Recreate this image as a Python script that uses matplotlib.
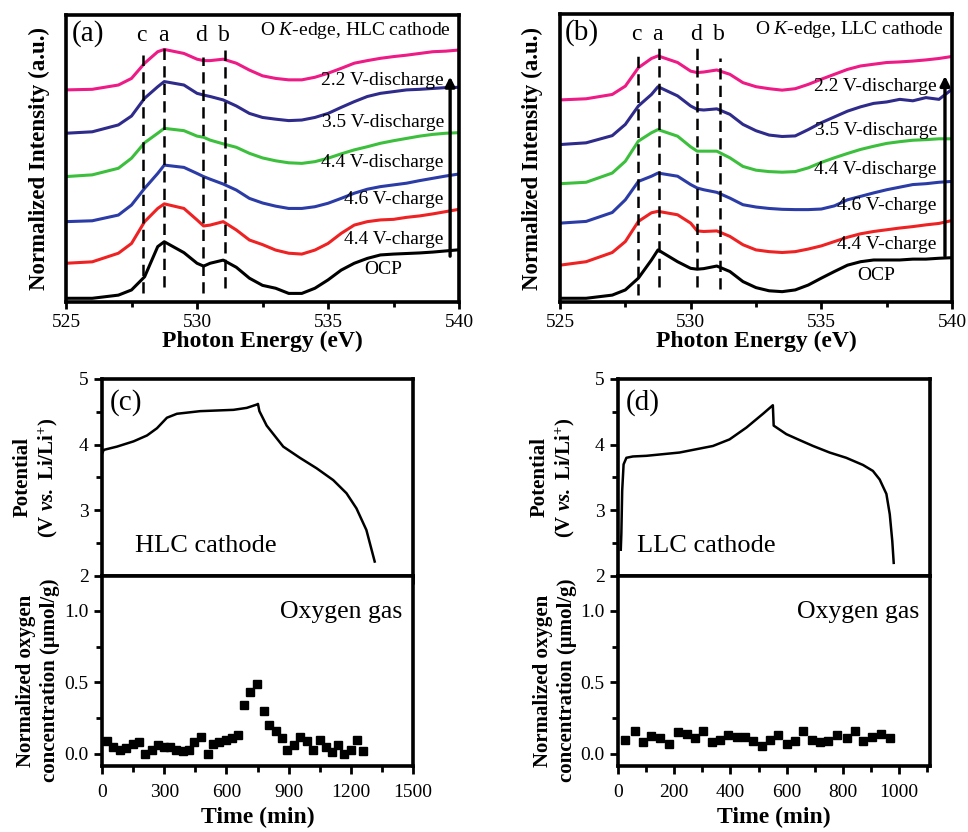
import matplotlib
matplotlib.use('Agg')
import matplotlib.pyplot as plt
from matplotlib.ticker import MultipleLocator

plt.rcParams['font.family'] = ['Liberation Serif', 'DejaVu Serif']
plt.rcParams['mathtext.fontset'] = 'custom'
plt.rcParams['mathtext.rm'] = 'Liberation Serif'
plt.rcParams['mathtext.it'] = 'Liberation Serif:italic'
plt.rcParams['mathtext.bf'] = 'Liberation Serif:bold'
plt.rcParams['mathtext.bfit'] = 'Liberation Serif:italic:bold'

# ---- O K-edge spectra (offset, arbitrary units) ----
energy = [525, 526, 527, 527.5, 528, 528.5, 528.75, 529.5, 530, 530.25, 530.5, 531, 531.5, 532, 532.5,
          533, 533.5, 534, 534.5, 535, 535.5, 536, 536.5, 537, 537.5, 538, 538.5, 539, 539.5, 540]

hlc_ocp = [0.13, 0.13, 0.24, 0.42, 0.88, 1.93, 2.10, 1.72, 1.35, 1.25, 1.35, 1.46, 1.21, 0.83, 0.58,
           0.48, 0.30, 0.30, 0.48, 0.77, 1.11, 1.35, 1.52, 1.64, 1.67, 1.69, 1.71, 1.74, 1.78, 1.82]
hlc_44c = [1.35, 1.40, 1.70, 2.04, 2.80, 3.26, 3.42, 3.26, 2.86, 2.65, 2.68, 2.80, 2.51, 2.16, 2.00,
           1.81, 1.70, 1.67, 1.81, 2.04, 2.39, 2.68, 2.80, 2.86, 2.88, 2.95, 3.00, 3.07, 3.15, 3.23]
hlc_46c = [2.80, 2.83, 3.03, 3.38, 3.96, 4.48, 4.77, 4.69, 4.48, 4.37, 4.28, 4.11, 3.90, 3.61, 3.45,
           3.34, 3.26, 3.26, 3.32, 3.44, 3.61, 3.79, 3.93, 4.02, 4.08, 4.14, 4.23, 4.31, 4.39, 4.46]
hlc_44d = [4.37, 4.43, 4.66, 5.01, 5.55, 5.88, 6.05, 5.97, 5.78, 5.74, 5.64, 5.51, 5.39, 5.18, 5.02,
           4.92, 4.85, 4.83, 4.89, 5.01, 5.16, 5.30, 5.41, 5.53, 5.62, 5.70, 5.78, 5.84, 5.88, 5.90]
hlc_35d = [5.88, 5.93, 6.17, 6.48, 7.10, 7.50, 7.68, 7.56, 7.27, 7.21, 7.16, 7.04, 6.83, 6.57, 6.43,
           6.37, 6.32, 6.34, 6.43, 6.57, 6.78, 6.98, 7.16, 7.27, 7.33, 7.39, 7.41, 7.44, 7.47, 7.48]
hlc_22d = [7.39, 7.41, 7.56, 7.79, 8.32, 8.72, 8.80, 8.66, 8.46, 8.41, 8.41, 8.46, 8.32, 8.08, 7.88,
           7.79, 7.74, 7.74, 7.83, 7.97, 8.14, 8.32, 8.41, 8.49, 8.55, 8.60, 8.66, 8.72, 8.74, 8.78]

llc_ocp = [0.13, 0.13, 0.24, 0.42, 0.83, 1.46, 1.81, 1.40, 1.17, 1.14, 1.16, 1.25, 1.06, 0.71, 0.50,
           0.39, 0.36, 0.42, 0.59, 0.83, 1.06, 1.28, 1.40, 1.46, 1.46, 1.46, 1.49, 1.49, 1.52, 1.54]
llc_44c = [1.28, 1.40, 1.72, 2.10, 2.80, 3.10, 3.15, 3.03, 2.74, 2.47, 2.45, 2.47, 2.28, 1.99, 1.81,
           1.75, 1.72, 1.75, 1.84, 1.95, 2.10, 2.25, 2.37, 2.45, 2.51, 2.57, 2.62, 2.68, 2.73, 2.83]
llc_46c = [2.74, 2.80, 3.11, 3.55, 4.19, 4.37, 4.48, 4.37, 4.08, 3.96, 3.90, 3.81, 3.61, 3.38, 3.30,
           3.25, 3.22, 3.21, 3.21, 3.23, 3.34, 3.55, 3.67, 3.79, 3.90, 3.99, 4.08, 4.11, 4.16, 4.19]
llc_44d = [4.11, 4.16, 4.48, 4.89, 5.59, 5.88, 5.99, 5.76, 5.39, 5.24, 5.24, 5.24, 5.01, 4.71, 4.58,
           4.53, 4.51, 4.53, 4.66, 4.85, 5.01, 5.16, 5.30, 5.41, 5.51, 5.57, 5.62, 5.64, 5.67, 5.67]
llc_35d = [5.47, 5.53, 5.78, 6.17, 6.81, 7.21, 7.48, 7.16, 6.81, 6.69, 6.67, 6.71, 6.52, 6.17, 5.95,
           5.80, 5.75, 5.77, 5.99, 6.23, 6.43, 6.63, 6.78, 6.90, 6.95, 7.04, 6.99, 7.10, 7.04, 7.39]
llc_22d = [7.02, 7.06, 7.21, 7.50, 8.14, 8.46, 8.55, 8.32, 8.02, 7.97, 7.99, 8.06, 7.91, 7.62, 7.48,
           7.41, 7.36, 7.41, 7.56, 7.74, 7.91, 8.08, 8.20, 8.26, 8.32, 8.34, 8.37, 8.41, 8.46, 8.53]

state_labels = ['OCP', '4.4 V-charge', '4.6 V-charge', '4.4 V-discharge', '3.5 V-discharge', '2.2 V-discharge']
state_colors = ['#000000', '#ee2222', '#2b3ca6', '#3cbf3c', '#2e2b8a', '#ee1a85']
peak_names = ['c', 'a', 'd', 'b']
peaks_hlc = [527.92, 528.75, 530.22, 531.07]
peaks_llc = [527.97, 528.79, 530.26, 531.12]

# label heights for the state names
label_y_hlc = [1.14, 2.18, 3.58, 4.85, 6.25, 7.73]
label_y_llc = [0.91, 1.99, 3.34, 4.62, 5.97, 7.48]

# ---- potential profiles ----
hlc_time = [0, 8, 72, 152, 217, 265, 313, 361, 473, 634, 698, 746, 752, 759, 794, 874, 954, 1035,
            1115, 1179, 1227, 1275, 1315]
hlc_volt = [3.86, 3.92, 3.97, 4.05, 4.14, 4.25, 4.41, 4.47, 4.51, 4.53, 4.56, 4.61, 4.62, 4.51, 4.29,
            3.97, 3.80, 3.64, 3.46, 3.26, 3.03, 2.70, 2.22]
llc_time = [10, 12, 15, 20, 30, 53, 101, 219, 338, 397, 457, 516, 551, 554, 599, 646, 694, 753, 812,
            872, 907, 931, 955, 967, 976, 981]
llc_volt = [2.40, 2.64, 3.30, 3.70, 3.80, 3.82, 3.83, 3.88, 3.98, 4.08, 4.26, 4.47, 4.60, 4.29, 4.16,
            4.07, 3.98, 3.88, 3.80, 3.69, 3.60, 3.47, 3.25, 2.94, 2.53, 2.20]

# ---- oxygen gas ----
hlc_o2_t = [26, 55, 87, 115, 147, 176, 208, 239, 268, 297, 329, 357, 389, 418, 445, 477, 510, 537, 566,
            599, 627, 658, 687, 716, 748, 779, 805, 840, 869, 894, 926, 957, 989, 1018, 1050, 1079, 1110,
            1139, 1168, 1200, 1231, 1260]
hlc_o2 = [0.09, 0.05, 0.03, 0.04, 0.07, 0.08, 0.00, 0.03, 0.06, 0.05, 0.05, 0.03, 0.02, 0.03, 0.08,
          0.12, 0.00, 0.07, 0.08, 0.10, 0.11, 0.13, 0.34, 0.43, 0.49, 0.30, 0.20, 0.16, 0.11, 0.03,
          0.06, 0.12, 0.09, 0.03, 0.10, 0.05, 0.01, 0.06, 0.00, 0.03, 0.10, 0.02]
llc_o2_t = [25, 60, 90, 116, 149, 183, 215, 244, 274, 304, 333, 363, 393, 423, 452, 482, 511, 541, 571,
            600, 630, 659, 689, 719, 748, 778, 814, 843, 873, 903, 935, 968]
llc_o2 = [0.095, 0.16, 0.08, 0.125, 0.11, 0.07, 0.155, 0.14, 0.11, 0.16, 0.08, 0.095, 0.13, 0.12, 0.115,
          0.09, 0.055, 0.10, 0.13, 0.07, 0.09, 0.16, 0.10, 0.085, 0.09, 0.13, 0.11, 0.16, 0.09, 0.12,
          0.14, 0.11]

SPINE_W = 2.6
fig = plt.figure(figsize=(9.68, 8.32), dpi=100)


def style_axes(ax, length=5, pad=3.5):
    for s in ax.spines.values():
        s.set_linewidth(SPINE_W)
    ax.tick_params(which='both', direction='out', width=2, labelsize=14, top=False, right=False, pad=pad)
    ax.tick_params(which='major', length=length)
    ax.tick_params(which='minor', length=length * 0.7)


def spectra_panel(rect, curves, peaks, label_y, tag, title, arrow_x, ylab_x):
    ax = fig.add_axes(rect)
    for y, c in zip(curves, state_colors):
        ax.plot(energy, y, color=c, lw=2.2)
    for x, y0, y1 in peaks:
        ax.plot([x, x], [y0, y1], color='black', lw=1.8, ls=(0, (4.5, 2.5)))
    for name, (x, _, _) in zip(peak_names, peaks):
        ax.text(x - 0.05, 9.3, name, fontsize=17, ha='center', va='center')
    for lab, y in zip(state_labels, label_y):
        if lab == 'OCP':
            ax.text(537.1, y, lab, fontsize=14, ha='center', va='center')
        else:
            ax.text(539.42, y, lab, fontsize=14, ha='right', va='center')
    ax.annotate('', xy=(arrow_x, 7.95), xytext=(arrow_x, 1.5),
                arrowprops=dict(arrowstyle='-|>', lw=2.4, color='black', mutation_scale=14))
    ax.text(525.2, 9.35, tag, fontsize=21, ha='left', va='center')
    ax.text(539.7, 9.45, title, fontsize=14, ha='right', va='center')
    ax.set_xlim(525, 540)
    ax.set_ylim(0, 10)
    ax.set_yticks([])
    ax.xaxis.set_major_locator(MultipleLocator(5))
    ax.xaxis.set_minor_locator(MultipleLocator(2.5))
    style_axes(ax)
    ax.set_xlabel('Photon Energy (eV)', fontsize=17, fontweight='bold', labelpad=0)
    ax.set_ylabel('Normalized Intensity (a.u.)', fontsize=16.5, fontweight='bold')
    ax.yaxis.set_label_coords(ylab_x, 0.5)
    return ax


hlc_curves = [hlc_ocp, hlc_44c, hlc_46c, hlc_44d, hlc_35d, hlc_22d]
llc_curves = [llc_ocp, llc_44c, llc_46c, llc_44d, llc_35d, llc_22d]
hlc_dash = list(zip(peaks_hlc, [0.31, 0.52, 0.31, 0.49], [8.6, 8.88, 8.54, 8.78]))
llc_dash = list(zip(peaks_llc, [0.24, 0.53, 0.53, 0.45], [8.6, 8.9, 8.84, 8.49]))

spectra_panel([0.0682, 0.637, 0.406, 0.345], hlc_curves, hlc_dash, label_y_hlc, '(a)',
              'O $\\mathit{K}$-edge, HLC cathode', 539.66, -0.04)
spectra_panel([0.5785, 0.637, 0.405, 0.346], llc_curves, llc_dash, label_y_llc, '(b)',
              'O $\\mathit{K}$-edge, LLC cathode', 539.73, -0.043)

pot_label = 'Potential\n(V $\\mathbfit{vs.}$ Li/Li$^{\\mathbf{+}}$)'
o2_label = 'Normalized oxygen\nconcentration (\u03bcmol/g)'


def cycle_panel(left, width, t, v, ot, o2, xmax, xmaj, xmin, tag, cathode, cat_pos, ylab_x):
    top = fig.add_axes([left, 0.3077, width, 0.2368])
    bot = fig.add_axes([left, 0.0793, width, 0.2284])
    top.plot(t, v, color='black', lw=1.8)
    top.set_ylim(2, 5)
    top.set_xlim(0, xmax)
    top.yaxis.set_major_locator(MultipleLocator(1))
    top.yaxis.set_minor_locator(MultipleLocator(0.5))
    top.xaxis.set_major_locator(MultipleLocator(xmaj))
    top.xaxis.set_minor_locator(MultipleLocator(xmin))
    style_axes(top, length=6)
    top.tick_params(labelbottom=False)
    top.text(0.026, 0.878, tag, transform=top.transAxes, fontsize=21, ha='left', va='center')
    top.text(cat_pos, 0.15, cathode, transform=top.transAxes, fontsize=19, ha='left', va='center')
    top.set_ylabel(pot_label, fontsize=15, fontweight='bold', linespacing=1.25)
    top.yaxis.set_label_coords(ylab_x, 0.5)

    bot.plot(ot, o2, 's', color='black', ms=5.5)
    bot.set_xlim(0, xmax)
    bot.set_ylim(-0.085, 1.245)
    bot.yaxis.set_major_locator(MultipleLocator(0.5))
    bot.yaxis.set_minor_locator(MultipleLocator(0.25))
    bot.yaxis.set_major_formatter(matplotlib.ticker.FormatStrFormatter('%.1f'))
    bot.xaxis.set_major_locator(MultipleLocator(xmaj))
    bot.xaxis.set_minor_locator(MultipleLocator(xmin))
    style_axes(bot, length=6)
    bot.tick_params(axis='x', pad=7)
    bot.text(0.965, 0.81, 'Oxygen gas', transform=bot.transAxes, fontsize=18.5, ha='right', va='center')
    bot.set_xlabel('Time (min)', fontsize=17, fontweight='bold', labelpad=4)
    bot.set_ylabel(o2_label, fontsize=15, fontweight='bold', linespacing=1.25)
    bot.yaxis.set_label_coords(ylab_x, 0.45)


cycle_panel(0.1054, 0.3213, hlc_time, hlc_volt, hlc_o2_t, hlc_o2, 1500, 300, 150, '(c)', 'HLC cathode',
            0.106, -0.135)
cycle_panel(0.6384, 0.3223, llc_time, llc_volt, llc_o2_t, llc_o2, 1110, 200, 100, '(d)', 'LLC cathode',
            0.061, -0.131)

fig.savefig('out.png', dpi=100)
